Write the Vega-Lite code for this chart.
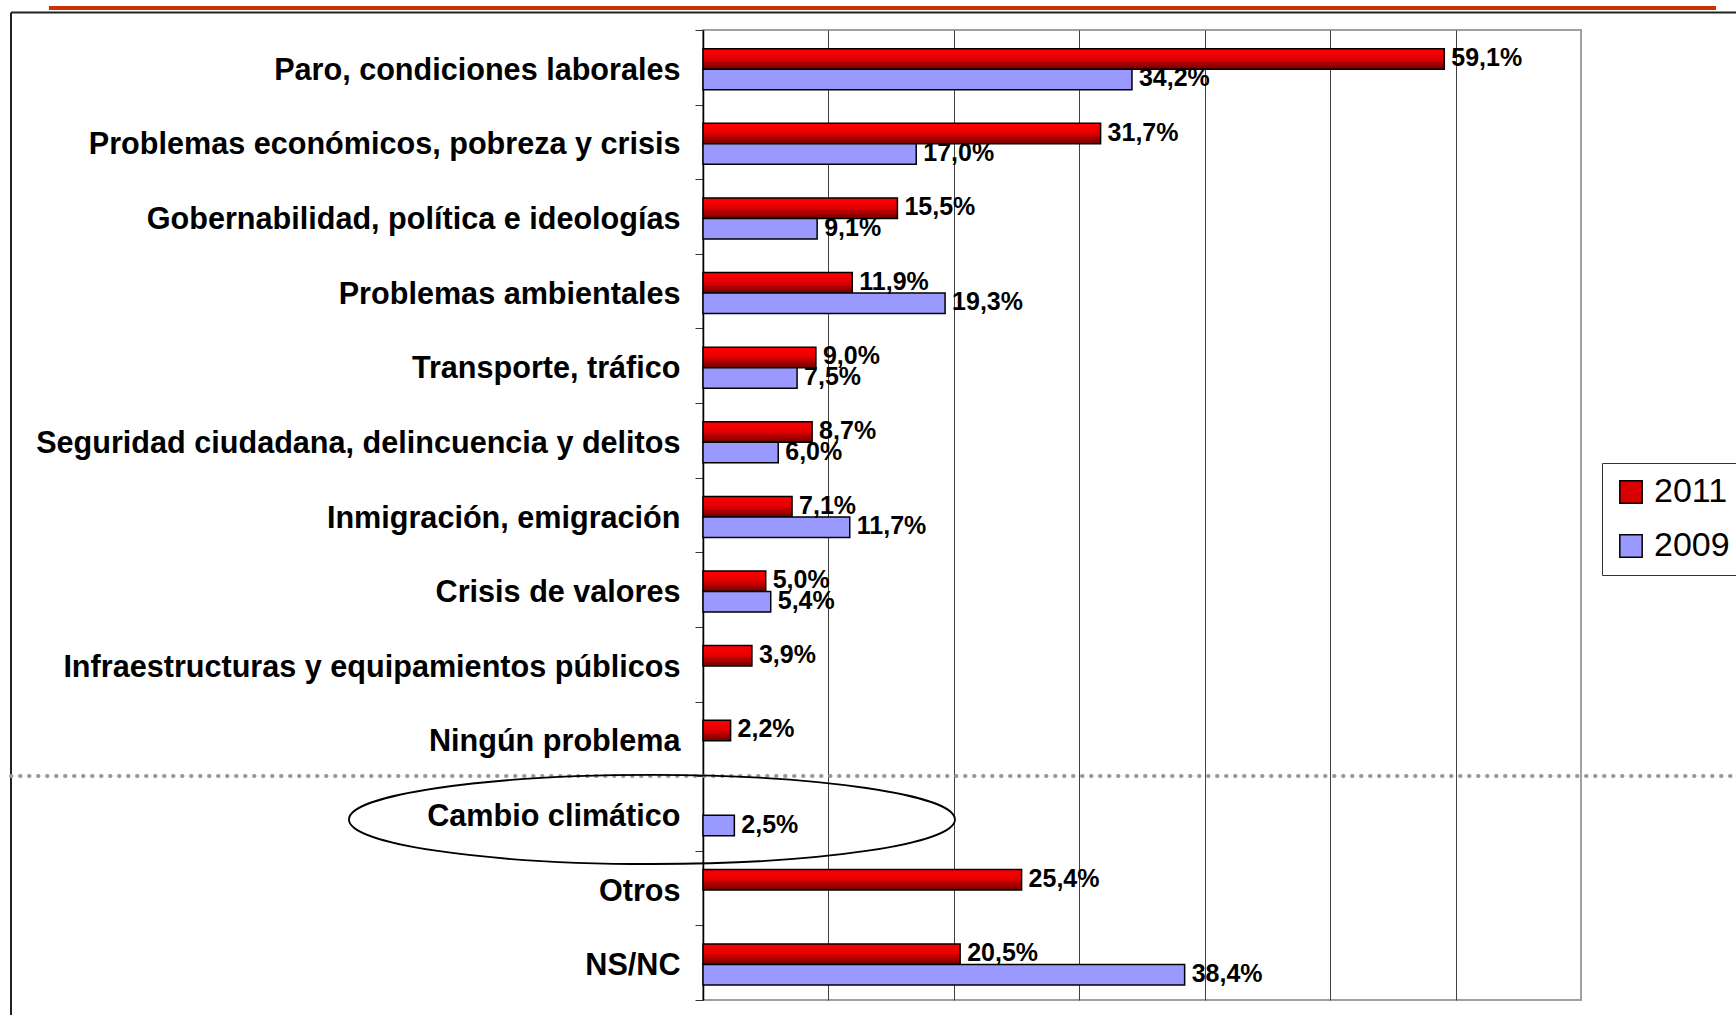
{
  "$schema": "https://vega.github.io/schema/vega-lite/v6.json",
  "width": 878,
  "height": 970,
  "autosize": "none",
  "padding": {"left": 703, "top": 30, "right": 155, "bottom": 15},
  "background": "white",
  "config": {
    "locale": {"number": {"decimal": ",", "thousands": ".", "grouping": [3], "currency": ["", " €"]}},
    "view": {"stroke": "#A0A0A0", "strokeWidth": 2},
    "font": "Liberation Sans"
  },
  "resolve": {"scale": {"y": "independent"}, "axis": {"y": "independent"}},
  "layer": [
    {
      "data": {"values": [
        {"cat": "Paro, condiciones laborales", "year": "2011", "value": 0.591},
        {"cat": "Paro, condiciones laborales", "year": "2009", "value": 0.342},
        {"cat": "Problemas económicos, pobreza y crisis", "year": "2011", "value": 0.317},
        {"cat": "Problemas económicos, pobreza y crisis", "year": "2009", "value": 0.170},
        {"cat": "Gobernabilidad, política e ideologías", "year": "2011", "value": 0.155},
        {"cat": "Gobernabilidad, política e ideologías", "year": "2009", "value": 0.091},
        {"cat": "Problemas ambientales", "year": "2011", "value": 0.119},
        {"cat": "Problemas ambientales", "year": "2009", "value": 0.193},
        {"cat": "Transporte, tráfico", "year": "2011", "value": 0.090},
        {"cat": "Transporte, tráfico", "year": "2009", "value": 0.075},
        {"cat": "Seguridad ciudadana, delincuencia y delitos", "year": "2011", "value": 0.087},
        {"cat": "Seguridad ciudadana, delincuencia y delitos", "year": "2009", "value": 0.060},
        {"cat": "Inmigración, emigración", "year": "2011", "value": 0.071},
        {"cat": "Inmigración, emigración", "year": "2009", "value": 0.117},
        {"cat": "Crisis de valores", "year": "2011", "value": 0.050},
        {"cat": "Crisis de valores", "year": "2009", "value": 0.054},
        {"cat": "Infraestructuras y equipamientos públicos", "year": "2011", "value": 0.039},
        {"cat": "Ningún problema", "year": "2011", "value": 0.022},
        {"cat": "Cambio climático", "year": "2009", "value": 0.025},
        {"cat": "Otros", "year": "2011", "value": 0.254},
        {"cat": "NS/NC", "year": "2011", "value": 0.205},
        {"cat": "NS/NC", "year": "2009", "value": 0.384}
      ]},
      "encoding": {
        "y": {
          "field": "cat", "type": "nominal",
          "scale": {"domain": ["Paro, condiciones laborales", "Problemas económicos, pobreza y crisis", "Gobernabilidad, política e ideologías", "Problemas ambientales", "Transporte, tráfico", "Seguridad ciudadana, delincuencia y delitos", "Inmigración, emigración", "Crisis de valores", "Infraestructuras y equipamientos públicos", "Ningún problema", "Cambio climático", "Otros", "NS/NC"], "paddingInner": 0, "paddingOuter": 0},
          "axis": {"title": null, "labelFont": "Liberation Sans", "labelFontSize": 30.6, "labelFontWeight": "bold", "labelColor": "black", "labelLimit": 900, "labelPadding": 15, "labelOffset": 3, "tickSize": 8, "tickColor": "#333333", "tickBand": "extent", "domainColor": "black", "domainWidth": 1.5, "grid": false}
        },
        "yOffset": {"field": "year", "type": "nominal", "scale": {"domain": ["2011", "2009"], "paddingInner": 0, "paddingOuter": 0.82, "align": 0.556}},
        "x": {
          "field": "value", "type": "quantitative",
          "scale": {"domain": [0, 0.7], "nice": false},
          "axis": {"title": null, "labels": false, "ticks": false, "domain": false, "grid": true, "gridColor": "#404040", "gridWidth": 1, "values": [0.1, 0.2, 0.3, 0.4, 0.5, 0.6]}
        }
      },
      "layer": [
        {
          "mark": {"type": "bar", "stroke": "black", "strokeWidth": 1.5},
          "encoding": {
            "color": {
              "field": "year", "type": "nominal",
              "condition": {"test": "datum.year === '2011'", "value": {"gradient": "linear", "x1": 0, "y1": 0, "x2": 0, "y2": 1, "stops": [{"offset": 0, "color": "#FF0000"}, {"offset": 0.45, "color": "#E60000"}, {"offset": 1, "color": "#700000"}]}},
              "scale": {"domain": ["2011", "2009"], "range": ["#D80000", "#9999FF"]},
              "legend": {"title": null, "orient": "none", "legendX": 899, "legendY": 433, "strokeColor": "#333333", "padding": 12, "symbolType": "square", "symbolSize": 500, "symbolStrokeColor": "black", "symbolStrokeWidth": 1.5, "labelFont": "Liberation Sans", "labelFontSize": 34, "labelColor": "black", "labelOffset": 6, "rowPadding": 20, "labelLimit": 300}
            }
          }
        },
        {
          "mark": {"type": "text", "align": "left", "baseline": "middle", "dx": 7, "dy": -1, "font": "Liberation Sans", "fontSize": 25, "fontWeight": "bold", "color": "black"},
          "encoding": {
            "text": {"field": "value", "type": "quantitative", "format": ".1%"}
          }
        }
      ]
    },
    {
      "data": {"values": [{}]},
      "layer": [
        {
          "mark": {"type": "rule", "stroke": "#C83200", "strokeWidth": 4},
          "encoding": {
            "x": {"datum": -0.5214, "type": "quantitative", "scale": {"domain": [0, 0.7], "nice": false}},
            "x2": {"datum": 0.8076},
            "y": {"datum": 1.0227, "type": "quantitative", "scale": {"domain": [0, 1], "nice": false, "zero": false}, "axis": null}
          }
        },
        {
          "mark": {"type": "rule", "stroke": "#222222", "strokeWidth": 2},
          "encoding": {
            "x": {"datum": -0.5517, "type": "quantitative"},
            "x2": {"datum": 0.8236},
            "y": {"datum": 1.018, "type": "quantitative"}
          }
        },
        {
          "mark": {"type": "rule", "stroke": "#222222", "strokeWidth": 2},
          "encoding": {
            "x": {"datum": -0.5517, "type": "quantitative"},
            "y": {"datum": 1.018, "type": "quantitative"},
            "y2": {"datum": -0.02}
          }
        },
        {
          "mark": {"type": "rule", "stroke": "#999999", "strokeWidth": 4, "strokeDash": [0.5, 8.5], "strokeCap": "round"},
          "encoding": {
            "x": {"datum": -0.5517, "type": "quantitative"},
            "x2": {"datum": 0.8236},
            "y": {"datum": 0.2309, "type": "quantitative"}
          }
        },
        {
          "mark": {"type": "point", "shape": "M -1 0 A 1 0.147 0 1 1 1 0 A 1 0.147 0 1 1 -1 0 Z", "size": 367236, "filled": false, "stroke": "black", "strokeWidth": 1.8, "opacity": 1},
          "encoding": {
            "x": {"datum": -0.0407, "type": "quantitative"},
            "y": {"datum": 0.1861, "type": "quantitative"}
          }
        }
      ]
    }
  ]
}
